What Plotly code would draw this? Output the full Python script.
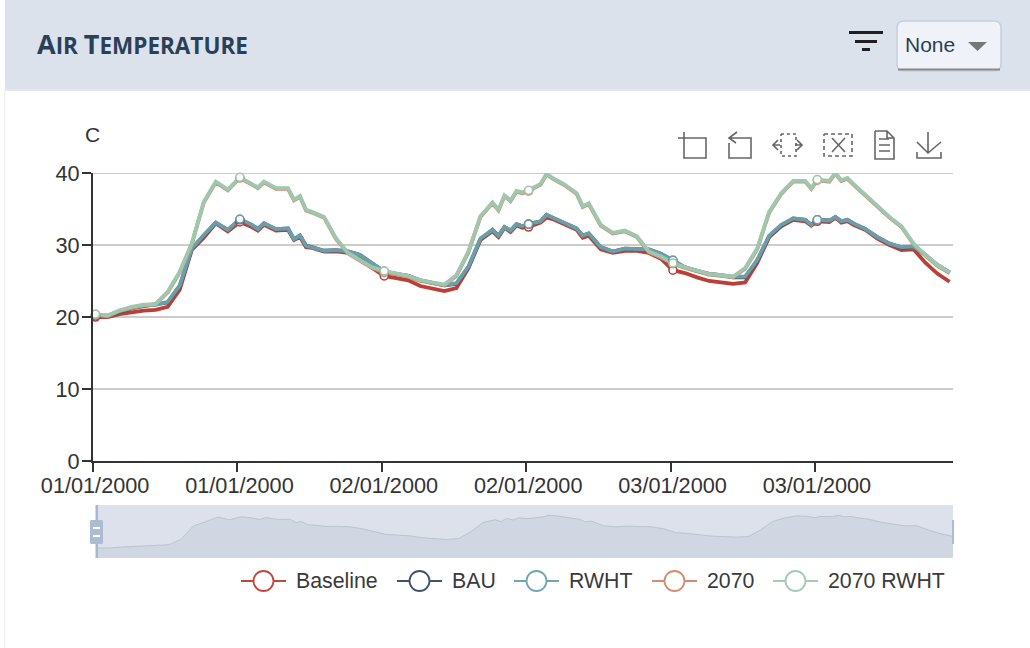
import plotly.graph_objects as go

W, H = 1030, 648

HOURS = [0,1,2,3,4,5,6,7,8,9,10,11,12,13,13.5,14,15,16,16.5,17,17.5,18,19,20,21,22,23,
         24,25,26,27,28,29,30,31,32,33,33.5,34,34.5,35,35.5,36,37,37.5,38,39,40,40.5,41,42,43,44,45,46,47,
         48,49,50,51,52,53,54,55,56,57,58,59,59.5,60,61,61.5,62,62.5,63,64,65,66,67,68,69,70,71]

BASELINE = [20.0,20.0,20.4,20.7,20.9,21.0,21.4,23.8,29.3,31.0,33.0,31.9,33.2,32.5,32.0,32.8,32.0,32.1,30.7,31.1,29.7,29.6,29.1,29.1,28.9,28.1,26.8,
            25.7,25.4,25.1,24.3,24.0,23.6,24.0,26.8,30.7,31.9,31.1,32.4,31.8,32.7,32.4,32.5,33.1,33.8,33.6,32.9,32.1,31.0,31.3,29.4,28.9,29.2,29.2,28.9,28.1,
            26.5,26.1,25.5,25.0,24.8,24.6,24.8,27.5,31.1,32.6,33.5,33.3,32.7,33.3,33.2,33.8,33.1,33.3,32.8,32.1,30.9,30.0,29.3,29.4,27.5,26.0,24.9]
BAU = [20.2,20.1,20.7,21.2,21.5,21.7,22.0,24.3,29.4,31.3,33.1,32.1,33.5,32.8,32.2,33.0,32.2,32.3,30.8,31.3,29.9,29.7,29.2,29.3,29.1,28.6,27.4,
       26.3,26.0,25.7,25.1,24.8,24.4,24.6,26.9,30.8,32.1,31.3,32.5,32.0,32.9,32.6,32.9,33.3,34.2,33.8,33.1,32.3,31.3,31.6,29.7,29.1,29.5,29.5,29.4,28.8,
       27.8,26.9,26.4,26.0,25.8,25.5,25.5,27.8,31.2,32.7,33.7,33.5,32.8,33.5,33.4,33.9,33.3,33.5,33.0,32.2,31.1,30.2,29.6,29.8,28.6,27.2,26.2]
RWHT = [20.3,20.2,20.8,21.3,21.6,21.7,22.1,24.4,29.5,31.4,33.1,32.1,33.6,32.8,32.2,33.0,32.2,32.3,30.8,31.3,29.9,29.7,29.2,29.3,29.1,28.6,27.4,
        26.3,26.0,25.7,25.1,24.8,24.4,24.7,27.0,30.9,32.1,31.3,32.5,32.0,32.9,32.6,32.9,33.3,34.2,33.8,33.1,32.3,31.3,31.6,29.7,29.1,29.5,29.5,29.4,28.8,
        27.9,26.9,26.4,26.0,25.8,25.6,25.6,27.9,31.3,32.8,33.7,33.5,32.8,33.5,33.4,33.9,33.3,33.5,33.0,32.2,31.1,30.2,29.7,29.8,28.6,27.2,26.2]
Y2070 = [20.3,20.1,20.9,21.3,21.6,21.8,23.4,26.2,30.1,35.9,38.7,37.6,39.3,38.4,37.9,38.7,37.8,37.8,36.2,36.7,34.8,34.5,33.8,30.8,28.8,27.8,26.8,
         26.2,26.0,25.6,25.0,24.7,24.4,25.7,29.0,33.9,35.8,34.8,36.8,36.1,37.4,37.2,37.5,38.4,39.8,39.2,38.3,37.1,35.3,35.7,32.7,31.6,31.9,31.1,29.0,28.3,
         27.4,26.8,26.3,25.9,25.7,25.5,26.7,29.4,34.5,37.1,38.8,38.8,37.8,39.0,38.8,39.9,38.9,39.2,38.4,36.9,35.3,33.8,32.5,30.1,28.5,27.1,26.1]
Y2070_RWHT = [20.4,20.2,20.9,21.4,21.7,21.8,23.5,26.3,30.2,36.0,38.8,37.7,39.4,38.5,38.0,38.8,37.9,37.9,36.3,36.8,34.9,34.6,33.9,30.9,28.9,27.9,26.9,
              26.4,26.1,25.7,25.1,24.8,24.5,25.8,29.1,34.0,35.9,34.9,36.9,36.2,37.5,37.3,37.6,38.5,39.9,39.3,38.4,37.2,35.4,35.8,32.8,31.7,32.0,31.2,29.1,28.4,
              27.5,26.9,26.4,26.0,25.8,25.6,26.8,29.5,34.6,37.2,38.9,38.9,37.9,39.1,38.9,40.0,39.0,39.3,38.5,37.0,35.4,33.9,32.6,30.2,28.6,27.2,26.2]

SERIES_NAMES = ["Baseline", "BAU", "RWHT", "2070", "2070 RWHT"]
SERIES_VALUES = [BASELINE, BAU, RWHT, Y2070, Y2070_RWHT]
LINE_COLORS = ["#bb3f36", "#465a6e", "#6c9ea9", "#cf8a6d", "#9fc6af"]
LEGEND_COLORS = ["#c2483f", "#3f5468", "#72a5b0", "#d28d70", "#a3cbb5"]
MARKER_HOURS = [0, 12, 24, 36, 48, 60]
TICK_POS = [-0.2, 11.8, 23.8, 35.8, 47.8, 59.8]
TICK_LABELS = ["01/01/2000", "01/01/2000", "02/01/2000", "02/01/2000", "03/01/2000", "03/01/2000"]
Y_TICKS = [0, 10, 20, 30, 40]
LEGEND_X = [241, 397, 514, 652, 773]


def px(x):
    return x / W


def py(y):
    return 1 - y / H


def path(*polylines):
    parts = []
    for pl in polylines:
        parts.append("M" + " L".join(f"{px(a):.5f},{py(b):.5f}" for a, b in pl))
    return " ".join(parts)


def rect(x0, y0, x1, y1, fill, line=None, lw=0, layer="below"):
    return dict(type="rect", xref="paper", yref="paper", x0=px(x0), x1=px(x1), y0=py(y1), y1=py(y0),
                fillcolor=fill, line=dict(color=line or fill, width=lw), layer=layer)


def rrect(x0, y0, x1, y1, r, fill, line, lw, layer="above"):
    d = (f"M{px(x0+r):.5f},{py(y0):.5f} L{px(x1-r):.5f},{py(y0):.5f} "
         f"Q{px(x1):.5f},{py(y0):.5f} {px(x1):.5f},{py(y0+r):.5f} L{px(x1):.5f},{py(y1-r):.5f} "
         f"Q{px(x1):.5f},{py(y1):.5f} {px(x1-r):.5f},{py(y1):.5f} L{px(x0+r):.5f},{py(y1):.5f} "
         f"Q{px(x0):.5f},{py(y1):.5f} {px(x0):.5f},{py(y1-r):.5f} L{px(x0):.5f},{py(y0+r):.5f} "
         f"Q{px(x0):.5f},{py(y0):.5f} {px(x0+r):.5f},{py(y0):.5f} Z")
    return dict(type="path", xref="paper", yref="paper", path=d, fillcolor=fill,
                line=dict(color=line, width=lw), layer=layer)


def stroke(*polylines, color="#666666", width=1.6, dash=None):
    return dict(type="path", xref="paper", yref="paper", path=path(*polylines),
                line=dict(color=color, width=width, dash=dash or "solid"), layer="above")


fig = go.Figure()

# mini overview chart
fig.add_trace(go.Scatter(x=HOURS, y=BASELINE, mode="lines", xaxis="x2", yaxis="y2", fill="tozeroy",
                         fillcolor="#d0d7e2", line=dict(color="#bcc4d2", width=1), showlegend=False,
                         hoverinfo="skip"))

for name, vals, col in zip(SERIES_NAMES, SERIES_VALUES, LINE_COLORS):
    fig.add_trace(go.Scatter(x=HOURS, y=vals, mode="lines", name=name, showlegend=False,
                             line=dict(color=col, width=3.8), cliponaxis=False))
for name, vals, col in zip(SERIES_NAMES, SERIES_VALUES, LINE_COLORS):
    mx = [h for h in HOURS if h in MARKER_HOURS]
    my = [v for h, v in zip(HOURS, vals) if h in MARKER_HOURS]
    fig.add_trace(go.Scatter(x=mx, y=my, mode="markers", name=name, showlegend=False, cliponaxis=False,
                             marker=dict(size=8, color="white", line=dict(color=col, width=1.6))))

shapes = [
    rect(5, 0, W, 89, "#dce2ec"),
    rect(5, 89, W, 91, "#e6e6e6"),
    rect(4, 90, 5, H, "#eeeeee"),
    rect(97, 505, 953, 558, "#dce1eb"),
    dict(type="line", xref="x", yref="y", x0=-0.208, x1=71.28, y0=40, y1=40, layer="below",
         line=dict(color="#cccccc", width=2)),
    # filter icon
    rect(849, 31, 883, 34, "#1f1f1f", layer="above"),
    rect(855, 40, 877, 43, "#1f1f1f", layer="above"),
    rect(862, 48, 870, 51, "#1f1f1f", layer="above"),
    # dropdown
    rrect(897, 21, 1001, 71, 7, "#eff3f9", "#c6d0e1", 1.6),
    stroke([(898, 69.5), (1000, 69.5)], color="#888888", width=2),
    dict(type="path", xref="paper", yref="paper", layer="above", fillcolor="#777777",
         line=dict(color="#777777", width=0), path=path([(968, 42), (987, 42), (977.5, 51)]) + " Z"),
    # toolbox icons
    stroke([(678, 138), (706, 138), (706, 158), (684, 158), (684, 132)]),
    stroke([(737, 132), (729, 138), (736, 143)], [(729, 138), (751, 138), (751, 158), (729, 158), (729, 143)]),
    stroke([(781, 134), (796, 134), (796, 156), (781, 156), (781, 134)], width=1.6, dash="3px,3px"),
    stroke([(778, 140), (773, 145), (778, 150)], [(773, 145), (780, 145)],
           [(797, 140), (802, 145), (797, 150)], [(802, 145), (795, 145)]),
    stroke([(824, 134), (852, 134), (852, 156), (824, 156), (824, 134)], width=1.6, dash="4px,3px"),
    stroke([(832, 138), (845, 152)], [(845, 138), (832, 152)]),
    stroke([(875, 131), (887, 131), (894, 138), (894, 159), (875, 159), (875, 131)], [(887, 131), (887, 138), (894, 138)],
           [(879, 139), (889, 139)], [(879, 145), (890, 145)], [(879, 151), (890, 151)]),
    stroke([(928, 132), (928, 153)], [(917, 142), (928, 153), (941, 142)], [(917, 152), (917, 158), (941, 158), (941, 152)]),
    # overview handles
    rect(95.5, 505, 98, 558, "#a8b7d0", layer="above"),
    rrect(90, 520, 103, 544, 1.5, "#aebcd3", "#aebcd3", 0),
    rect(93, 527, 100, 529, "#ffffff", layer="above"),
    rect(93, 535, 100, 537, "#ffffff", layer="above"),
    rect(952, 520, 954, 544, "#aebcd3", layer="above"),
]

annotations = [
    dict(x=px(34.5), y=py(43.5), xref="paper", yref="paper", xanchor="left", yanchor="middle", showarrow=False,
         text='<span style="font-size:27px">A</span>IR <span style="font-size:27px">T</span>EMPERATURE',
         font=dict(family="Open Sans", size=22.5, color="#2a3f58", weight="bold")),
    dict(x=px(902.5), y=py(44.5), xref="paper", yref="paper", xanchor="left", yanchor="middle", showarrow=False,
         text="None", font=dict(family="Liberation Sans", size=21, color="#2c3e55")),
    dict(x=px(92), y=py(134), xref="paper", yref="paper", xanchor="center", yanchor="middle", showarrow=False,
         text="C", font=dict(family="Liberation Sans", size=21, color="#333333")),
]

for name, x0, col in zip(SERIES_NAMES, LEGEND_X, LEGEND_COLORS):
    shapes.append(stroke([(x0, 581), (x0 + 45, 581)], color=col, width=1.8))
    shapes.append(dict(type="circle", xref="paper", yref="paper", layer="above", fillcolor="white",
                       x0=px(x0 + 12.5), x1=px(x0 + 32.5), y0=py(591), y1=py(571), line=dict(color=col, width=1.8)))
    annotations.append(dict(x=px(x0 + 52.5), y=py(581), xref="paper", yref="paper", xanchor="left", yanchor="middle",
                            showarrow=False, text=name, font=dict(family="Liberation Sans", size=21.3, color="#3a3a3a")))

fig.update_layout(
    template="none",
    width=W, height=H, margin=dict(l=0, r=0, t=0, b=0, pad=0), autosize=False,
    paper_bgcolor="white", plot_bgcolor="rgba(0,0,0,0)", showlegend=False,
    font=dict(family="Liberation Sans", size=21.7, color="#333333"),
    shapes=shapes, annotations=annotations,
    xaxis=dict(domain=[px(93), px(953)], range=[-0.208, 71.28], tickmode="array", tickvals=TICK_POS, ticktext=TICK_LABELS,
               tickangle=0, ticks="outside", ticklen=9, tickwidth=2, tickcolor="#333333", showline=True, linecolor="#333333",
               linewidth=2, showgrid=False, zeroline=False, anchor="y", automargin=False, ticklabelstandoff=-5, ticklabelshift=2),
    yaxis=dict(domain=[py(461), py(173)], range=[0, 40], tickmode="array", tickvals=Y_TICKS, ticks="outside", ticklen=9,
               tickwidth=2, tickcolor="#333333", showline=True, linecolor="#333333", linewidth=2, showgrid=True,
               gridcolor="#cccccc", gridwidth=2, zeroline=False, anchor="x", automargin=False, ticklabelstandoff=-2),
    xaxis2=dict(domain=[px(97), px(953)], range=[0, 71], visible=False, anchor="y2", automargin=False),
    yaxis2=dict(domain=[py(558), py(505)], range=[15.8, 38.1], visible=False, anchor="x2", automargin=False),
)

fig.write_html("out.html", config=dict(displayModeBar=False),
               post_script="document.body.style.margin='0';document.documentElement.style.overflow='hidden';")
